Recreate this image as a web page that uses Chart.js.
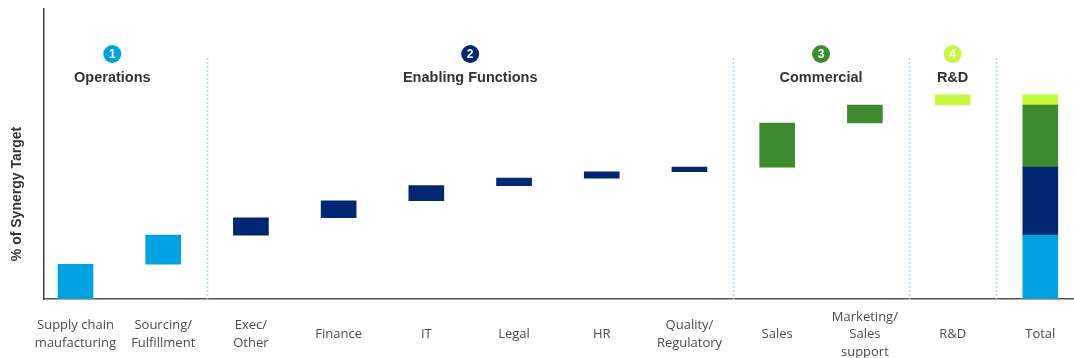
<!DOCTYPE html>
<html>
<head>
<meta charset="utf-8">
<script src="https://cdn.jsdelivr.net/npm/chart.js@4.4.1/dist/chart.umd.min.js"></script>
<style>
  html, body { margin: 0; padding: 0; background: #fff; }
  #wrap { width: 1074px; height: 358px; position: relative; }
</style>
</head>
<body>
<div id="wrap"><canvas id="chart"></canvas></div>
<script>
// Synergy waterfall - % of target by function
const categories = [
  ['Supply chain', 'maufacturing'], ['Sourcing/', 'Fulfillment'], ['Exec/', 'Other'],
  'Finance', 'IT', 'Legal', 'HR', ['Quality/', 'Regulatory'], 'Sales',
  ['Marketing/', 'Sales', 'support'], 'R&D', 'Total'
];
// floating bars: bottom and top of each step (% of target)
const barStart = [0, 17, 31.3, 39.8, 48.1, 55.5, 59.2, 62.3, 64.6, 86.2, 95];
const barEnd   = [17, 31.3, 39.8, 48.1, 55.5, 59.2, 62.3, 64.6, 86.2, 95, 100];
const barGroup = [0, 0, 1, 1, 1, 1, 1, 1, 2, 2, 3];
// total column segments, one per group
const totalStart = [0, 31.3, 64.6, 95];
const totalEnd   = [31.3, 64.6, 95, 100];

const groupNames = ['Operations', 'Enabling Functions', 'Commercial', 'R&D'];
const groupColors = ['#00a3e0', '#012672', '#3d8a2f', '#c5f73e'];
const groupCenter = [0.42, 4.5, 8.5, 10];   // header position, in category units
const dividers = [1.5, 7.5, 9.5, 10.5];
const yTitle = '% of Synergy Target';

const TOTAL_IDX = categories.length - 1;

const datasets = groupNames.map((name, g) => {
  const pts = [];
  barGroup.forEach((grp, i) => {
    if (grp === g) pts.push({ x: i, y: [barStart[i], barEnd[i]] });
  });
  pts.push({ x: TOTAL_IDX, y: [totalStart[g], totalEnd[g]] });
  return {
    label: name,
    data: pts,
    backgroundColor: groupColors[g],
    borderWidth: 0,
    barThickness: 35,
    grouped: false
  };
});

const headerPlugin = {
  id: 'headers',
  beforeDatasetsDraw(chart) {
    const { ctx, chartArea, scales: { x } } = chart;
    ctx.save();
    ctx.strokeStyle = '#a6d9f0';
    ctx.lineWidth = 1.5;
    ctx.setLineDash([2, 2]);
    dividers.forEach(d => {
      const px = Math.round(x.getPixelForValue(d)) + 0.5;
      ctx.beginPath();
      ctx.moveTo(px, 58);
      ctx.lineTo(px, chartArea.bottom);
      ctx.stroke();
    });
    ctx.restore();
  },
  afterDraw(chart) {
    const { ctx, scales: { x } } = chart;
    ctx.save();
    groupNames.forEach((name, g) => {
      const cx = x.getPixelForValue(groupCenter[g]);
      ctx.fillStyle = groupColors[g];
      ctx.beginPath();
      ctx.arc(cx, 54, 9, 0, Math.PI * 2);
      ctx.fill();
      ctx.fillStyle = '#fff';
      ctx.font = 'bold 12px "Liberation Sans", Arial, sans-serif';
      ctx.textAlign = 'center';
      ctx.textBaseline = 'middle';
      ctx.fillText(String(g + 1), cx, 54.5);
      ctx.fillStyle = '#333';
      ctx.font = 'bold 14.5px "Liberation Sans", Arial, sans-serif';
      ctx.fillText(name, cx, 77.5);
    });
    // y axis title, sits low along the axis
    ctx.translate(17, 194);
    ctx.rotate(-Math.PI / 2);
    ctx.fillStyle = '#333';
    ctx.font = 'bold 14px "Liberation Sans", Arial, sans-serif';
    ctx.fillText(yTitle, 0, 0);
    ctx.restore();
  }
};

new Chart(document.getElementById('chart'), {
  type: 'bar',
  data: { datasets },
  options: {
    responsive: true,
    maintainAspectRatio: false,
    animation: false,
    layout: { padding: { top: 9, right: 0, left: 0, bottom: 0 } },
    plugins: { legend: { display: false }, tooltip: { enabled: false } },
    scales: {
      x: {
        type: 'linear',
        offset: false,
        min: -0.359,
        max: 11.384,
        grid: { display: false, drawTicks: false },
        border: { display: true, color: '#555', width: 1.5 },
        afterBuildTicks: scale => { scale.ticks = categories.map((c, i) => ({ value: i })); },
        afterFit: scale => { scale.height = 59; },
        ticks: {
          autoSkip: false,
          maxRotation: 0,
          padding: 18,
          crossAlign: 'center',
          color: '#4a4a4a',
          font: { family: '"Open Sans", sans-serif', size: 13, lineHeight: 1.35 },
          callback: v => categories[v]
        }
      },
      y: {
        min: 0,
        max: 142,
        grid: { display: false, drawTicks: false },
        border: { display: true, color: '#444', width: 1.5 },
        ticks: { display: false },
        afterFit: scale => { scale.width = 44; },
        title: { display: false }
      }
    }
  },
  plugins: [headerPlugin]
});
</script>
</body>
</html>
